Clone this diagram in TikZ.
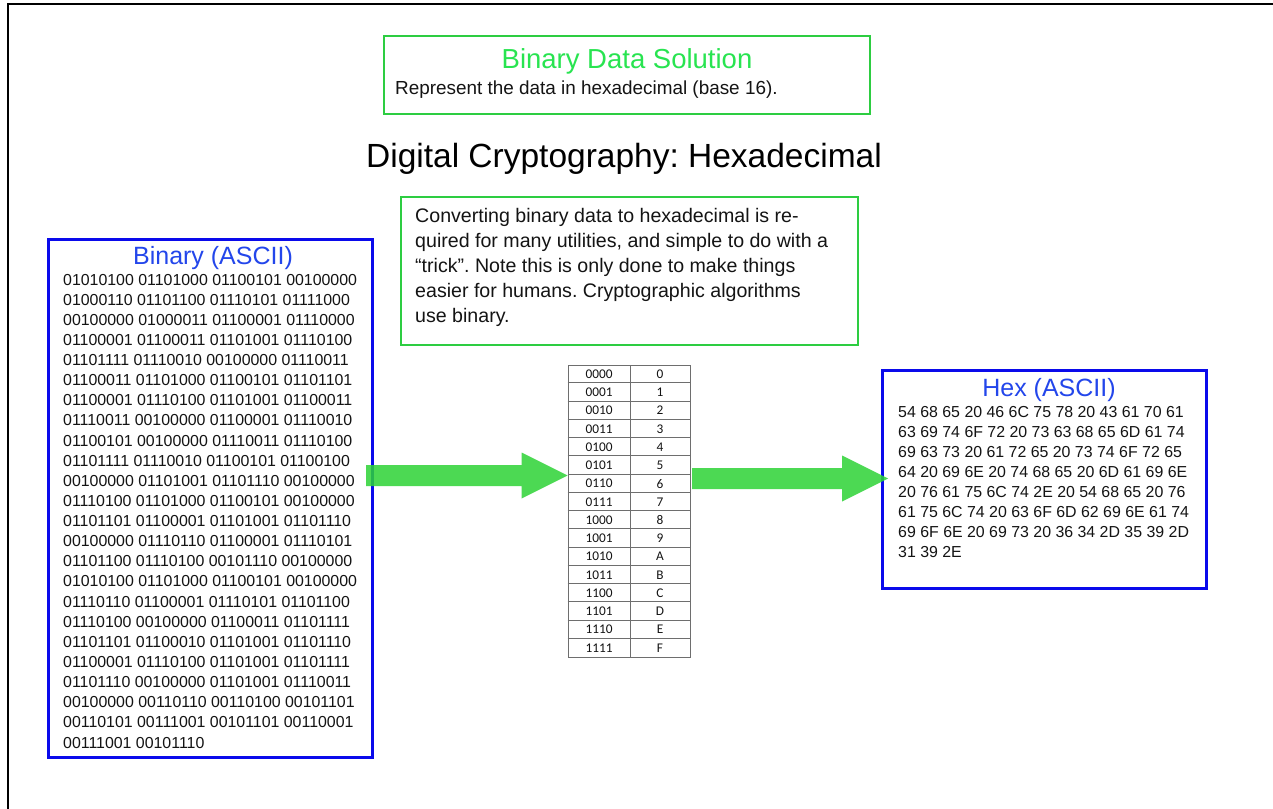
\documentclass[tikz,border=0pt]{standalone}
\usepackage{fontspec}
\setmainfont{Liberation Sans}
\newfontfamily\tablefont{Carlito}
\usetikzlibrary{calc}
\frenchspacing
\definecolor{boxblue}{RGB}{10,10,235}
\definecolor{titleblue}{RGB}{35,70,235}
\definecolor{boxgreen}{RGB}{45,205,65}
\definecolor{titlegreen}{RGB}{40,228,80}
\definecolor{arrowgreen}{RGB}{45,211,54}
\definecolor{gridgray}{RGB}{110,110,110}
\definecolor{textdark}{RGB}{20,20,20}
\newcommand\fatarrow[2]{\fill[arrowgreen,fill opacity=0.85]
  ($(#1)+(0,-10.5)$) -- ($(#2)+(-46,-10.5)$) -- ($(#2)+(-46,-23)$) -- (#2) --
  ($(#2)+(-46,23)$) -- ($(#2)+(-46,10.5)$) -- ($(#1)+(0,10.5)$) -- cycle;}
\begin{document}
\begin{tikzpicture}[x=1pt,y=-1pt,
  bluebox/.style={draw=boxblue,line width=3pt,inner sep=0pt},
  greenbox/.style={draw=boxgreen,line width=2.8pt,inner sep=0pt},
  bodyline/.style={anchor=base west,inner sep=0pt,text=textdark,font=\fontsize{15.9}{20}\selectfont},
  midline/.style={anchor=base west,inner sep=0pt,text=textdark,font=\fontsize{19.6}{25}\selectfont},
  boxtitle/.style={anchor=base,inner sep=0pt,text=titleblue,font=\fontsize{25}{30}\selectfont},
  tabtxt/.style={inner sep=0pt,text=textdark,font=\tablefont\fontsize{13.3}{15}\selectfont},
  gridline/.style={draw=gridgray,line width=0.8pt}]
\useasboundingbox (0,0) rectangle (1273,808);
\fill[white] (0,0) rectangle (1273,808);
% outer frame
\draw[line width=2pt,black] (7.5,830) -- (7.5,4.5) -- (1290,4.5);

% top box
\node[greenbox,minimum width=486pt,minimum height=78pt] (top) at (627,75) {};
\node[anchor=base,inner sep=0pt,text=titlegreen,font=\fontsize{27.5}{32}\selectfont] (toptitle) at (627,68) {Binary Data Solution};
\node[anchor=base west,inner sep=0pt,text=textdark,font=\fontsize{18.9}{23}\selectfont] (topsub) at (395,94) {Represent the data in hexadecimal (base 16).};

% heading
\node[anchor=base,inner sep=0pt,text=black,font=\fontsize{33.5}{38}\selectfont] (heading) at (624,167) {Digital Cryptography: Hexadecimal};

% middle box
\node[greenbox,minimum width=457pt,minimum height=148pt] (mid) at (629.5,271) {};
\foreach \t [count=\i] in {Converting binary data to hexadecimal is re-,
  {quired for many utilities, and simple to do with a},
  {“trick”. Note this is only done to make things},
  {easier for humans. Cryptographic algorithms},
  {use binary.}}
  \node[midline] (ml\i) at (415,{222+25*(\i-1)}) {\t};

% binary box
\node[bluebox,minimum width=324pt,minimum height=518pt] (bin) at (210,498) {};
\node[boxtitle] (bintitle) at (213,264) {Binary (ASCII)};
\foreach \t [count=\i] in {
  01010100 01101000 01100101 00100000,
  01000110 01101100 01110101 01111000,
  00100000 01000011 01100001 01110000,
  01100001 01100011 01101001 01110100,
  01101111 01110010 00100000 01110011,
  01100011 01101000 01100101 01101101,
  01100001 01110100 01101001 01100011,
  01110011 00100000 01100001 01110010,
  01100101 00100000 01110011 01110100,
  01101111 01110010 01100101 01100100,
  00100000 01101001 01101110 00100000,
  01110100 01101000 01100101 00100000,
  01101101 01100001 01101001 01101110,
  00100000 01110110 01100001 01110101,
  01101100 01110100 00101110 00100000,
  01010100 01101000 01100101 00100000,
  01110110 01100001 01110101 01101100,
  01110100 00100000 01100011 01101111,
  01101101 01100010 01101001 01101110,
  01100001 01110100 01101001 01101111,
  01101110 00100000 01101001 01110011,
  00100000 00110110 00110100 00101101,
  00110101 00111001 00101101 00110001,
  00111001 00101110}
  \node[bodyline] (bl\i) at (63,{285+20.13*(\i-1)}) {\t};

% hex box
\node[bluebox,minimum width=324pt,minimum height=218pt] (hex) at (1044,479) {};
\node[boxtitle] (hextitle) at (1049,396) {Hex (ASCII)};
\foreach \t [count=\i] in {
  54 68 65 20 46 6C 75 78 20 43 61 70 61,
  63 69 74 6F 72 20 73 63 68 65 6D 61 74,
  69 63 73 20 61 72 65 20 73 74 6F 72 65,
  64 20 69 6E 20 74 68 65 20 6D 61 69 6E,
  20 76 61 75 6C 74 2E 20 54 68 65 20 76,
  61 75 6C 74 20 63 6F 6D 62 69 6E 61 74,
  69 6F 6E 20 69 73 20 36 34 2D 35 39 2D,
  31 39 2E}
  \node[bodyline] (hl\i) at (898,{417+20*(\i-1)}) {\t};

% conversion table
\node[gridline,draw,minimum width=122pt,minimum height=292pt,inner sep=0pt] (tbl) at (629,511) {};
\draw[gridline] (630,365) -- (630,657);
\foreach \r in {1,...,15}
  \draw[gridline] ($(tbl.north west)+(0,{18.25*\r})$) -- ++(122,0);
\foreach \b/\h [count=\i] in {0000/0,0001/1,0010/2,0011/3,0100/4,0101/5,0110/6,0111/7,
  1000/8,1001/9,1010/A,1011/B,1100/C,1101/D,1110/E,1111/F} {
  \node[tabtxt] (tb\i) at (599,{365+18.25*(\i-0.5)}) {\b};
  \node[tabtxt] (th\i) at (660,{365+18.25*(\i-0.5)}) {\h};
}

% arrows
\coordinate (a1s) at (366,475.5);
\coordinate (a1e) at (tbl.west |- a1s);
\coordinate (a2s) at (692,478.5);
\coordinate (a2e) at (888,478.5);
\fatarrow{a1s}{a1e}
\fatarrow{a2s}{a2e}
\end{tikzpicture}
\end{document}
